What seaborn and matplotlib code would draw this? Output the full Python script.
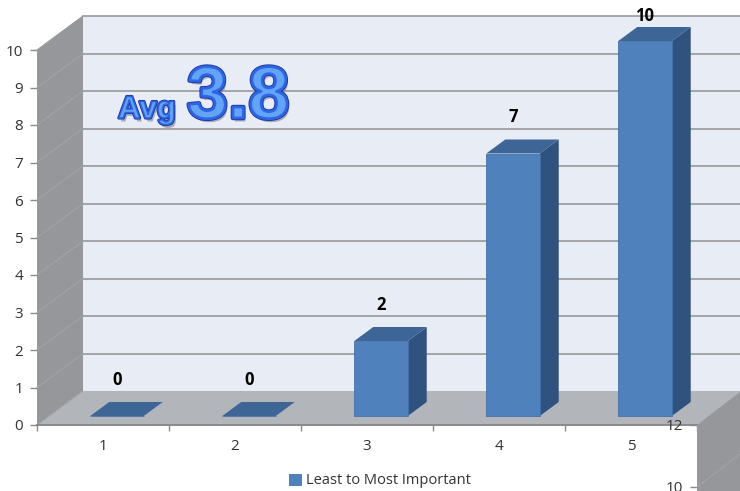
import matplotlib
matplotlib.use("Agg")
import matplotlib.pyplot as plt
import matplotlib.patheffects as pe
from matplotlib.patches import Polygon
import seaborn as sns

# values
categories = ["1", "2", "3", "4", "5"]
values = [0, 0, 2, 7, 10]
series_name = "Least to Most Important"
y_ticks = list(range(11))
second_ticks = [12, 10]

W, H = 740, 491
sns.set_theme(style="white")
plt.rcParams["font.family"] = ["Open Sans", "DejaVu Sans"]

fig = plt.figure(figsize=(W / 100, H / 100), dpi=100, facecolor="white")
ax = fig.add_axes([37 / W, (H - 425) / H, 660 / W, 375 / H])
ax.patch.set_visible(False)

# px -> data units for the fake depth
ux, uy = 132.0, 37.5
wall_dx, wall_dy = 46 / ux, 34 / uy
bar_shift, bar_lift = 14 / ux, 9 / uy
side_dx, side_dy = 19 / ux, 14 / uy
x0, x1 = -0.5, 4.5

FRONT = "#4f81bd"
SIDE = "#2f527f"
TOP = "#3d6595"
GRID = "#97999c"
TEXT = "#333333"


def poly(pts, color, z, edge="none", lw=0):
    ax.add_patch(Polygon(pts, closed=True, facecolor=color, edgecolor=edge,
                         linewidth=lw, zorder=z, clip_on=False))


### walls and floor ###
top = 10 + wall_dy
right = x1 + 50 / ux
poly([(x0 + wall_dx, wall_dy), (right, wall_dy), (right, top), (x0 + wall_dx, top)], "#e8ecf5", 1)
poly([(x0, 0), (x0 + wall_dx, wall_dy), (x0 + wall_dx, top), (x0, 10)], "#96979b", 1)
poly([(x0, 0), (x0 + wall_dx, wall_dy), (right, wall_dy), (x1, 0)], "#b2b5ba", 1.5)

for v in y_ticks:
    if v > 0:
        ax.plot([x0 + wall_dx, right], [v + wall_dy, v + wall_dy], color=GRID, lw=1.2, zorder=2, clip_on=False)
    ax.plot([x0, x0 + wall_dx], [v, v + wall_dy], color="#a2a3a6" if v < 10 else GRID, lw=0.8, zorder=2, clip_on=False)

### bars ###
sns.barplot(x=categories, y=values, color=FRONT, saturation=1, width=0.405, label=series_name, ax=ax, zorder=4)

for patch, val in zip(ax.patches[-len(values):], values):
    patch.set_x(patch.get_x() + bar_shift)
    patch.set_y(bar_lift)
    patch.set_clip_on(False)
    patch.set_edgecolor("#4373aa")
    patch.set_linewidth(0.6)
    patch.set_zorder(4)
    xa = patch.get_x()
    xb = xa + patch.get_width()
    ya = bar_lift
    yb = bar_lift + val
    poly([(xb, ya), (xb + side_dx, ya + side_dy), (xb + side_dx, yb + side_dy), (xb, yb)], SIDE, 3)
    poly([(xa, yb), (xa + side_dx, yb + side_dy), (xb + side_dx, yb + side_dy), (xb, yb)], TOP, 4.5)
    # labels sit 36 px over the front top, pushed down near the top of the figure
    ly = min(yb + 36 / uy, 10.9)
    ax.text((xa + xb) / 2, ly, str(val), ha="center", va="center", fontsize=12,
            fontweight="bold", color="black", zorder=6, clip_on=False)

### axes ###
ax.set_xlim(x0, x1)
ax.set_ylim(0, 10)
ax.set_yticks(y_ticks)
ax.set_xticks(range(len(categories)), categories)
ax.set_xticks([x0 + i for i in range(len(categories) + 1)], minor=True)
ax.tick_params(axis="x", which="major", length=0, pad=10, labelsize=11, labelcolor=TEXT)
ax.tick_params(axis="x", which="minor", length=4, width=1, color="#8a8a8a", bottom=True)
ax.tick_params(axis="y", length=5, width=1, color="#8a8a8a", pad=5, labelsize=11, labelcolor=TEXT, left=True)
sns.despine(ax=ax, left=True, top=True, right=True)
ax.spines["bottom"].set_color("#8a8a8a")
ax.spines["bottom"].set_linewidth(1.4)
ax.spines["bottom"].set_zorder(5)
ax.set_xlabel("")
ax.set_ylabel("")

leg = ax.legend(loc="center", bbox_to_anchor=(380 / W, 1 - 481 / H), bbox_transform=fig.transFigure,
                frameon=False, fontsize=10.5, handlelength=0.85, handleheight=0.85, handletextpad=0.35)
for t in leg.get_texts():
    t.set_color(TEXT)

### the next chart starting at the bottom right corner ###
ax2 = fig.add_axes([697 / W, 0, 43 / W, 66 / H], zorder=3)
ax2.patch.set_visible(False)
ax2.set_xlim(0, 43)
ax2.set_ylim(12 - 66 / 31, 12)
for s in ax2.spines.values():
    s.set_visible(False)
ax2.add_patch(Polygon([(0, 12), (43, 12 + 33 / 31), (43, 12 - 66 / 31), (0, 12 - 66 / 31)],
                      facecolor="#96979b", edgecolor="none", clip_on=False))
ax2.plot([0, 43], [10, 10 + 33 / 31], color="#a2a3a6", lw=0.8)
ax2.set_xticks([])
ax2.set_yticks(second_ticks)
ax2.tick_params(axis="y", length=5, width=1, color="#8a8a8a", pad=5, labelsize=11, labelcolor=TEXT, left=True)
for lab in ax2.get_yticklabels():
    lab.set_clip_on(False)

### glossy average text ###
shadow = pe.withSimplePatchShadow(offset=(1.5, -2.5), shadow_rgbFace="#7f8493", alpha=0.6)
gloss_big = [shadow, pe.Stroke(linewidth=3.2, foreground="#1f2f9a"), pe.Stroke(linewidth=2.0, foreground="#2a66e6")]
gloss_small = [shadow, pe.Stroke(linewidth=2.2, foreground="#1f2f9a"), pe.Stroke(linewidth=1.1, foreground="#2a66e6")]
fig.text(118 / W, 1 - 118 / H, "Avg", fontsize=22.5, fontweight="bold", family=["Liberation Sans"],
         color="#63a4f7", path_effects=gloss_small, zorder=10)
fig.text(187 / W, 1 - 118 / H, "3.8", fontsize=53, fontweight="bold", family=["Liberation Sans"],
         color="#63a4f7", path_effects=gloss_big, zorder=10)

fig.savefig("out.png", dpi=100, facecolor="white")
